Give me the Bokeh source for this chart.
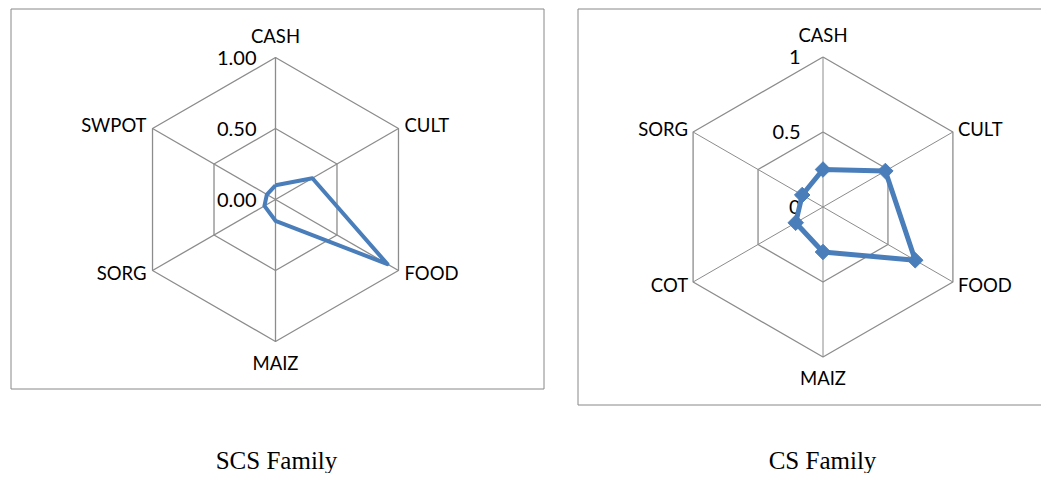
import numpy as np
from bokeh.plotting import figure
from bokeh.models import Range1d
from bokeh.core.properties import value
from bokeh.embed import file_html
from bokeh.resources import INLINE

# ---- data ----
scs_categories = ["CASH", "CULT", "FOOD", "MAIZ", "SORG", "SWPOT"]
scs_values = [0.10, 0.30, 0.91, 0.15, 0.09, 0.07]
scs_ticks = ["0.00", "0.50", "1.00"]

cs_categories = ["CASH", "CULT", "FOOD", "MAIZ", "COT", "SORG"]
cs_values = [0.25, 0.48, 0.71, 0.30, 0.21, 0.16]
cs_ticks = ["0", "0.5", "1"]

tick_values = [0.0, 0.5, 1.0]
titles = ["SCS Family", "CS Family"]

LINE = "#4A7EBB"
GRID = "#8C8C8C"
FONT = "Lato"

p = figure(width=1041, height=473, output_backend="svg", toolbar_location=None,
           x_range=Range1d(0, 1041), y_range=Range1d(473, 0), min_border=0)
p.xaxis.visible = False
p.yaxis.visible = False
p.xgrid.visible = False
p.ygrid.visible = False
p.outline_line_color = None
p.background_fill_color = "white"
p.border_fill_color = "white"

# chart boxes
p.line([10.5, 543.5, 543.5, 10.5, 10.5], [8.5, 8.5, 388.5, 388.5, 8.5], line_color="#888888", line_width=1)
p.line([1100, 577.5, 577.5, 1100], [8.5, 8.5, 404.5, 404.5], line_color="#888888", line_width=1)


def radar(cx, cy, R, cats, vals, ticks, markers, lw, spoke_w, label_y, label_dx, tick_x):
    n = len(cats)
    ang = np.pi / 2 - np.arange(n) * 2 * np.pi / n
    ux, uy = np.cos(ang), -np.sin(ang)
    # rings
    for t in tick_values[1:]:
        xs = list(cx + R * t * ux) + [cx + R * t * ux[0]]
        ys = list(cy + R * t * uy) + [cy + R * t * uy[0]]
        p.line(xs, ys, line_color=GRID, line_width=1.3)
    # spokes
    for i in range(n):
        p.line([cx, cx + R * ux[i]], [cy, cy + R * uy[i]], line_color=GRID, line_width=spoke_w)
    # tick labels
    p.text(x=[tick_x] * len(ticks), y=[cy - R * t for t in tick_values], text=ticks,
           text_align="right", text_baseline="middle", text_font=value(FONT),
           text_font_size="20px", text_color="black")
    # series
    v = np.array(vals)
    xs = list(cx + R * v * ux) + [cx + R * v[0] * ux[0]]
    ys = list(cy + R * v * uy) + [cy + R * v[0] * uy[0]]
    p.line(xs, ys, line_color=LINE, line_width=lw, line_join="round")
    if markers:
        p.scatter(xs[:-1], ys[:-1], marker="square", angle=np.pi / 4, size=11,
                  fill_color=LINE, line_color=LINE)
    # category labels
    for i, c in enumerate(cats):
        vx = cx + R * ux[i]
        if abs(ux[i]) < 1e-6:
            x, align = vx, "center"
        elif ux[i] > 0:
            x, align = vx + label_dx, "left"
        else:
            x, align = vx - label_dx, "right"
        p.text(x=[x], y=[label_y[i]], text=[c], text_align=align, text_baseline="middle",
               text_font=value(FONT), text_font_size="18.5px", text_color="black")


radar(275, 199, 142, scs_categories, scs_values, scs_ticks, False, 4, 1.3,
      [35, 124, 272, 362, 272, 124], 6, 256)
radar(822.5, 206.5, 150, cs_categories, cs_values, cs_ticks, True, 5, 1.0,
      [34, 128, 284, 377, 284, 128], 5, 800)

p.text(x=[276, 822], y=[460, 460], text=titles, text_align="center", text_baseline="alphabetic",
       text_font=value("Liberation Serif"), text_font_size="25px", text_color="black")

open("out.html", "w").write(file_html(p, INLINE))
